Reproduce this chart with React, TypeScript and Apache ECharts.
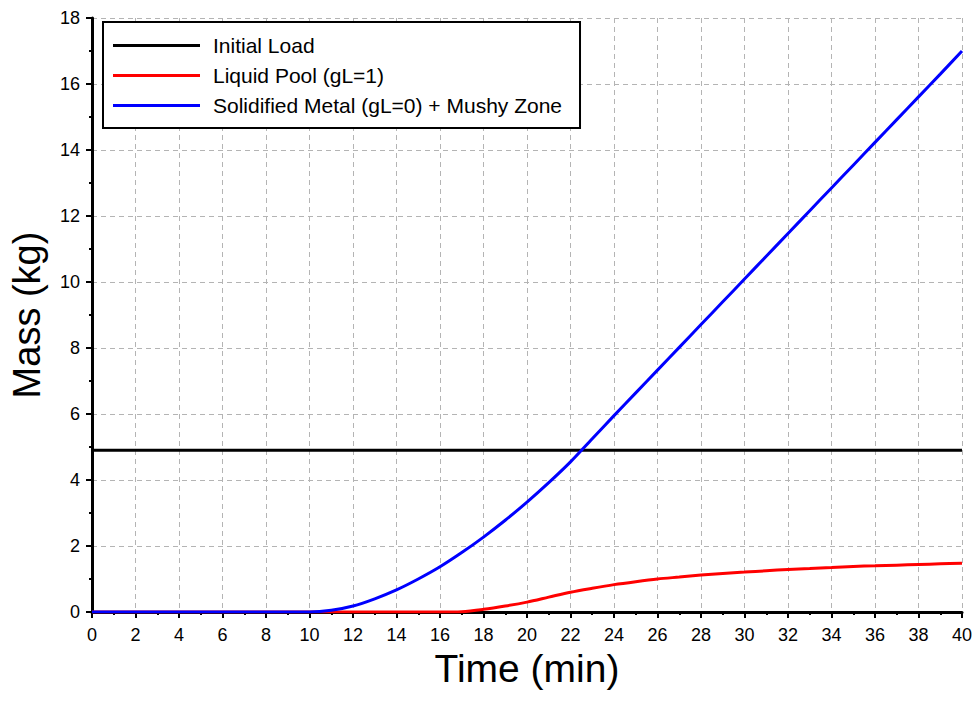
import React, { useEffect, useRef } from "react";
import * as echarts from "echarts";

const time: number[] = [
  0, 1, 2, 3, 4, 5, 6, 7, 8, 9, 10, 11, 12, 13, 14, 15, 16, 17, 18, 19, 20,
  21, 22, 23, 24, 25, 26, 27, 28, 29, 30, 31, 32, 33, 34, 35, 36, 37, 38, 39, 40,
];

const initialLoad: number[] = [
  4.9, 4.9, 4.9, 4.9, 4.9, 4.9, 4.9, 4.9, 4.9, 4.9, 4.9, 4.9, 4.9, 4.9, 4.9, 4.9, 4.9,
  4.9, 4.9, 4.9, 4.9, 4.9, 4.9, 4.9, 4.9, 4.9, 4.9, 4.9, 4.9, 4.9, 4.9, 4.9, 4.9, 4.9,
  4.9, 4.9, 4.9, 4.9, 4.9, 4.9, 4.9,
];

const liquidPool: number[] = [
  0, 0, 0, 0, 0, 0, 0, 0, 0, 0, 0, 0, 0, 0, 0, 0, 0, 0.01, 0.08, 0.18, 0.3,
  0.45, 0.6, 0.72, 0.83, 0.92, 1.0, 1.06, 1.12, 1.17, 1.21, 1.25, 1.29, 1.32, 1.35,
  1.38, 1.4, 1.42, 1.44, 1.46, 1.48,
];

const solidified: number[] = [
  0, 0, 0, 0, 0, 0, 0, 0, 0, 0, 0, 0.05, 0.18, 0.4, 0.67, 1.0, 1.37, 1.8, 2.27,
  2.78, 3.33, 3.92, 4.55, 5.25, 5.95, 6.64, 7.33, 8.02, 8.71, 9.4, 10.09, 10.78, 11.47,
  12.16, 12.85, 13.54, 14.23, 14.92, 15.61, 16.3, 17.0,
];

const seriesNames = [
  "Initial Load",
  "Liquid Pool (gL=1)",
  "Solidified Metal (gL=0) + Mushy Zone",
];

const FONT = "Liberation Sans, Arial, sans-serif";

function pairs(ys: number[]): number[][] {
  return time.map((t, i) => [t, ys[i]]);
}

export default function App() {
  const ref = useRef<HTMLDivElement>(null);
  useEffect(() => {
    if (!ref.current) return;
    const chart = echarts.init(ref.current, null, { renderer: "svg" });
    const axisLine = { show: true, onZero: false, lineStyle: { color: "#000", width: 3 } };
    const splitLine = {
      show: true,
      lineStyle: { color: "#b4b4b4", width: 1, type: [5, 4] as any },
    };
    chart.setOption({
      animation: false,
      backgroundColor: "#fff",
      grid: { left: 91, right: 16, top: 18, bottom: 95, containLabel: false },
      legend: {
        show: true,
        orient: "vertical",
        left: 103,
        top: 22,
        data: seriesNames,
        icon: "rect",
        itemWidth: 87,
        itemHeight: 3,
        itemGap: 9,
        padding: [13, 18, 12, 10],
        borderColor: "#000",
        borderWidth: 2,
        backgroundColor: "#fff",
        textStyle: {
          fontFamily: FONT,
          fontSize: 21,
          lineHeight: 21,
          color: "#000",
          padding: [0, 0, 0, 8],
        },
      },
      xAxis: {
        type: "value",
        min: 0,
        max: 40,
        interval: 2,
        name: "Time (min)",
        nameLocation: "middle",
        nameGap: 31,
        nameTextStyle: { fontFamily: FONT, fontSize: 39, color: "#000" },
        axisLine,
        axisTick: { show: true, length: 6, lineStyle: { color: "#000", width: 2 } },
        minorTick: { show: true, splitNumber: 2, length: 3, lineStyle: { color: "#000", width: 2 } },
        axisLabel: { fontFamily: FONT, fontSize: 18, color: "#000", margin: 14 },
        splitLine,
      },
      yAxis: {
        type: "value",
        min: 0,
        max: 18,
        interval: 2,
        name: "Mass (kg)",
        nameLocation: "middle",
        nameGap: 46,
        nameTextStyle: { fontFamily: FONT, fontSize: 38, color: "#000" },
        axisLine,
        axisTick: { show: true, length: 6, lineStyle: { color: "#000", width: 2 } },
        minorTick: { show: true, splitNumber: 2, length: 3, lineStyle: { color: "#000", width: 2 } },
        axisLabel: { fontFamily: FONT, fontSize: 18, color: "#000", margin: 12 },
        splitLine,
      },
      series: [
        {
          name: seriesNames[0],
          type: "line",
          data: pairs(initialLoad),
          showSymbol: false,
          symbol: "none",
          lineStyle: { color: "#000", width: 3 },
          itemStyle: { color: "#000" },
          z: 3,
        },
        {
          name: seriesNames[1],
          type: "line",
          data: pairs(liquidPool),
          showSymbol: false,
          symbol: "none",
          smooth: 0.3,
          lineStyle: { color: "#ff0000", width: 3 },
          itemStyle: { color: "#ff0000" },
          z: 4,
        },
        {
          name: seriesNames[2],
          type: "line",
          data: pairs(solidified),
          showSymbol: false,
          symbol: "none",
          smooth: 0.3,
          lineStyle: { color: "#0000ff", width: 3 },
          itemStyle: { color: "#0000ff" },
          z: 5,
        },
      ],
    });
    return () => chart.dispose();
  }, []);
  return <div ref={ref} style={{ width: 978, height: 707, position: "absolute", left: 0, top: 0 }} />;
}
